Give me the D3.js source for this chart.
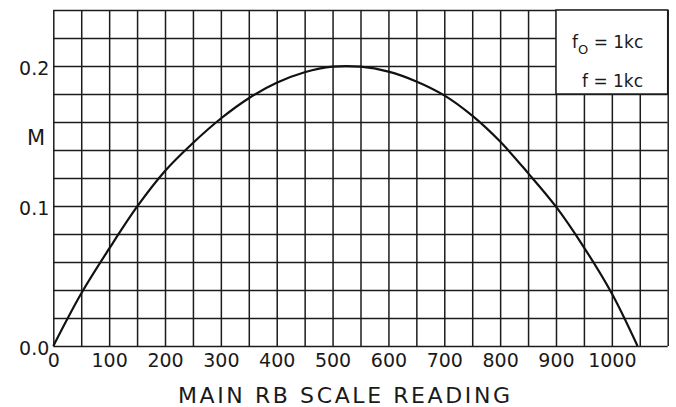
<!DOCTYPE html>
<html>
<head>
<meta charset="utf-8">
<script src="https://cdn.jsdelivr.net/npm/d3@7"></script>
<style>
  html, body { margin: 0; padding: 0; background: #fff; }
  svg { display: block; }
  text { font-family: "DejaVu Sans", "Liberation Sans", sans-serif; fill: #1a1a1a; }
</style>
</head>
<body>
<svg id="chart" width="676" height="407"></svg>
<script>
// Main RB scale reading vs. M
const scaleReading = [0, 50, 100, 150, 200, 250, 300, 350, 400, 450, 500, 550, 600, 650, 700, 750, 800, 850, 900, 950, 1000, 1046];
const mValues      = [0, 0.0375, 0.0695, 0.0995, 0.125, 0.145, 0.1625, 0.177, 0.188, 0.1955, 0.1995, 0.1995, 0.196, 0.189, 0.179, 0.1645, 0.146, 0.1235, 0.0995, 0.0705, 0.0375, 0];

const xTickLabels = [0, 100, 200, 300, 400, 500, 600, 700, 800, 900, 1000];
const yTickValues = [0, 0.1, 0.2];
const yTickLabels = ["0.0", "0.1", "0.2"];
const xGridValues = d3.range(0, 1101, 50);
const yGridValues = d3.range(0, 13).map(i => +(i * 0.02).toFixed(2));

const legendLines = [
  { main: "f", sub: "O", rest: " = 1kc" },
  { main: "f", sub: "",  rest: " = 1kc" }
];
const xTitle = "MAIN  RB  SCALE  READING";
const yTitle = "M";

const W = 676, H = 407;
const margin = { left: 53.3, right: 8.3, top: 10, bottom: 61 };
const plotW = W - margin.left - margin.right;
const plotH = H - margin.top - margin.bottom;

const svg = d3.select("#chart");
const ink = "#1c1c1c";

const x = d3.scaleLinear().domain([0, 1100]).range([margin.left, margin.left + plotW]);
const y = d3.scaleLinear().domain([0, 0.24]).range([margin.top + plotH, margin.top]);

// grid (vertical lines every 50, horizontal every 0.02)
const gx = svg.append("g")
  .attr("transform", `translate(0,${margin.top + plotH})`)
  .call(d3.axisBottom(x).tickValues(xGridValues).tickSize(-plotH).tickFormat(""));
gx.select(".domain").remove();
gx.selectAll("line").attr("stroke", ink).attr("stroke-width", 1.5);

const gy = svg.append("g")
  .attr("transform", `translate(${margin.left},0)`)
  .call(d3.axisLeft(y).tickValues(yGridValues).tickSize(-plotW).tickFormat(""));
gy.select(".domain").remove();
gy.selectAll("line").attr("stroke", ink).attr("stroke-width", 1.5);

// legend panel covering the upper-right cells
svg.append("rect")
  .attr("x", x(900)).attr("y", y(0.24))
  .attr("width", x(1100) - x(900)).attr("height", y(0.18) - y(0.24))
  .attr("fill", "#fff").attr("stroke", ink).attr("stroke-width", 1.5);

const legendY = [48, 87];
const legendX = [572, 582];
legendLines.forEach((d, i) => {
  const t = svg.append("text")
    .attr("x", legendX[i]).attr("y", legendY[i])
    .attr("font-size", 17);
  t.append("tspan").text(d.main);
  if (d.sub) {
    t.append("tspan").attr("font-size", 13).attr("dy", 6).text(d.sub);
    t.append("tspan").attr("dy", -6).text(d.rest);
  } else {
    t.append("tspan").text(d.rest);
  }
});

// curve
const line = d3.line()
  .x((d, i) => x(scaleReading[i]))
  .y(d => y(d))
  .curve(d3.curveCatmullRom.alpha(0.5));

svg.append("path")
  .datum(mValues)
  .attr("d", line)
  .attr("fill", "none")
  .attr("stroke", "#111")
  .attr("stroke-width", 2.2);

// axis labels
const ax = svg.append("g")
  .attr("transform", `translate(0,${margin.top + plotH})`)
  .call(d3.axisBottom(x).tickValues(xTickLabels).tickSize(0).tickPadding(8).tickFormat(d => String(d)));
ax.select(".domain").remove();
ax.selectAll("text")
  .attr("font-size", 19)
  .attr("font-family", "DejaVu Sans")
  .attr("fill", ink);

const ay = svg.append("g")
  .attr("transform", `translate(${margin.left},0)`)
  .call(d3.axisLeft(y).tickValues(yTickValues).tickSize(0).tickPadding(4)
    .tickFormat((d, i) => yTickLabels[i]));
ay.select(".domain").remove();
ay.selectAll("text")
  .attr("font-size", 19)
  .attr("font-family", "DejaVu Sans")
  .attr("dy", "0.45em")
  .attr("fill", ink);

// titles
svg.append("text")
  .attr("x", 36).attr("y", 145)
  .attr("text-anchor", "middle")
  .attr("font-size", 21)
  .text(yTitle);

svg.append("text")
  .attr("x", 178).attr("y", 403)
  .attr("font-size", 22)
  .attr("textLength", 332)
  .attr("lengthAdjust", "spacing")
  .text(xTitle);
</script>
</body>
</html>
